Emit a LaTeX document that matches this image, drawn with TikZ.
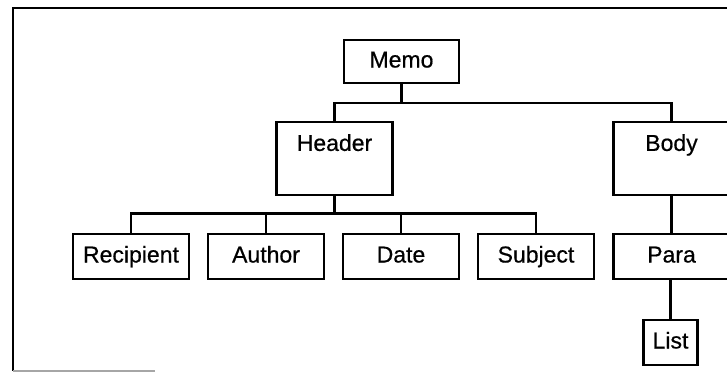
\documentclass[tikz,border=0pt]{standalone}
\usepackage{fontspec}
\setmainfont[FakeBold=0.6]{Liberation Sans}
\begin{document}
\begin{tikzpicture}[x=1pt,y=-1pt,
  every node/.style={font=\fontsize{23}{27}\selectfont, text height=16.5pt, text depth=4.5pt},
  box/.style={draw, line width=2.2pt, rectangle, inner sep=0pt, anchor=center},
  leaf/.style={box, minimum width=116pt, minimum height=45pt},
  tall/.style={box, minimum width=116pt, minimum height=73pt},
  conn/.style={line width=2.2pt},
  frame/.style={line width=2.4pt}
]
\clip (0,0) rectangle (727,373);
% frame
\coordinate (ftl) at (13,8);
\coordinate (ftr) at (730,8);
\coordinate (fbl) at (13,371);
\coordinate (fbr) at (155,371);
\draw[frame] (ftr) -- (ftl) -- (fbl);
\draw[line width=1.4pt, black!35] (fbl) -- (fbr);
% nodes
\node[box, minimum width=115pt, minimum height=43pt] (memo) at (401.5,61.5) {Memo};
\node[tall, label={[anchor=center, yshift=-24pt]north:Header}] (header) at (334.5,158.5) {};
\node[tall, label={[anchor=center, yshift=-24pt]north:Body}] (body) at (671.5,158.5) {};
\node[leaf] (recipient) at (131,256.5) {Recipient};
\node[leaf] (author) at (266,256.5) {Author};
\node[leaf] (date) at (401,256.5) {Date};
\node[leaf] (subject) at (536,256.5) {Subject};
\node[leaf] (para) at (671.5,256.5) {Para};
\node[box, minimum width=54pt, minimum height=45pt] (list) at (670.5,342.5) {List};
% connectors
\coordinate (b1) at (401.5,103);
\coordinate (b2) at (334.5,213.5);
\draw[conn] (memo.south) -- (b1);
\draw[conn] (header.north) |- (b1) -| (body.north);
\draw[conn] (header.south) -- (b2);
\draw[conn] (recipient.north) |- (b2) -| (subject.north);
\draw[conn] (author.north) -- (author.north |- b2);
\draw[conn] (date.north) -- (date.north |- b2);
\draw[conn] (body.south) -- (para.north);
\draw[conn] (para.south -| list.north) -- (list.north);
\end{tikzpicture}
\end{document}
